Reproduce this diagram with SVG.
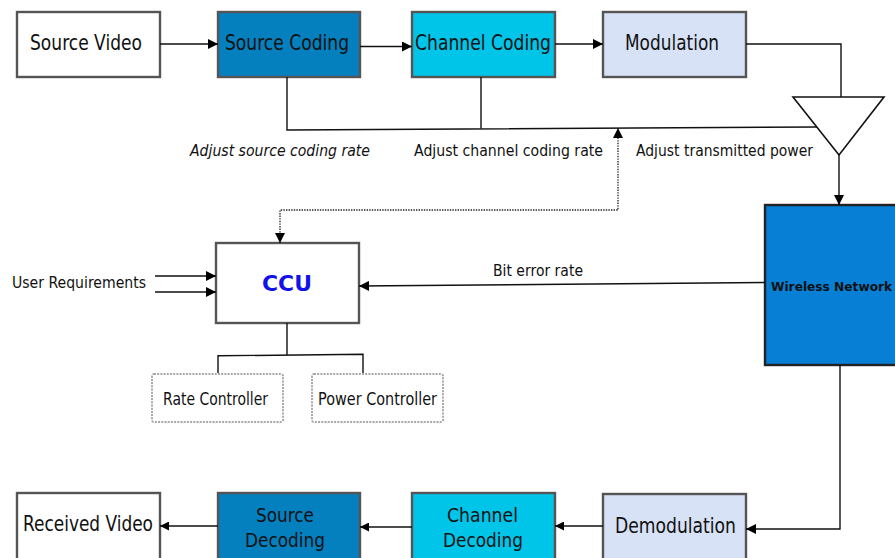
<svg xmlns="http://www.w3.org/2000/svg" width="895" height="558" viewBox="0 0 895 558">
  <defs>
    <marker id="arrow" viewBox="0 0 10 10" refX="10" refY="5" markerWidth="10" markerHeight="10" markerUnits="userSpaceOnUse" orient="auto-start-reverse">
      <path d="M0,0 L10,5 L0,10 Z" fill="#000"/>
    </marker>
    <marker id="arrow-s" viewBox="0 0 10 10" refX="10" refY="5" markerWidth="9" markerHeight="9" markerUnits="userSpaceOnUse" orient="auto-start-reverse">
      <path d="M0,0 L10,5 L0,10 Z" fill="#000"/>
    </marker>
  </defs>
  <style>
    text { font-family: "DejaVu Sans", "Liberation Sans", sans-serif; fill: #111; }
    .box { stroke: #555; stroke-width: 2.4; }
    .white { fill: #fff; }
    .src { fill: #0580bf; }
    .chn { fill: #00c4e8; }
    .mod { fill: #d7e2f7; }
    .net { fill: #067fd5; stroke: #222; stroke-width: 2.4; }
    .ctl { fill: #fff; stroke: #a8a8a8; stroke-width: 2; stroke-dasharray: 2 1.2; }
    .big { font-size: 20.5px; }
    .mid { font-size: 19px; }
    .sml { font-size: 17.5px; }
    .lbl { font-size: 15px; }
    .wire { fill: none; stroke: #111; stroke-width: 1.4; }
    .dot { fill: none; stroke: #222; stroke-width: 1.3; stroke-dasharray: 1.4 1.2; }
  </style>

  <!-- transmitter chain -->
  <g id="source-video">
    <rect class="box white" x="17" y="12" width="143" height="65"/>
    <text class="big" x="30" y="49.5" textLength="112" lengthAdjust="spacingAndGlyphs">Source Video</text>
  </g>
  <g id="source-coding">
    <rect class="box src" x="218" y="12" width="142" height="65"/>
    <text class="big" x="225" y="50" textLength="124" lengthAdjust="spacingAndGlyphs">Source Coding</text>
  </g>
  <g id="channel-coding">
    <rect class="box chn" x="412" y="12" width="143" height="65"/>
    <text class="big" x="415" y="50" textLength="136" lengthAdjust="spacingAndGlyphs">Channel Coding</text>
  </g>
  <g id="modulation">
    <rect class="box mod" x="603" y="12" width="143" height="65"/>
    <text class="big" x="625" y="50" textLength="94" lengthAdjust="spacingAndGlyphs">Modulation</text>
  </g>
  <g id="antenna">
    <polygon points="793,97 884,97 839,155" fill="#fff" stroke="#111" stroke-width="1.6"/>
  </g>

  <!-- control unit and its controllers -->
  <g id="ccu">
    <rect class="box white" x="216" y="243" width="143" height="80"/>
    <text x="262" y="291" font-size="22" font-weight="bold" textLength="50" lengthAdjust="spacingAndGlyphs" style="fill:#1212e8">CCU</text>
  </g>
  <g id="rate-controller">
    <rect class="ctl" x="152" y="374" width="131" height="48" rx="2"/>
    <text class="sml" x="163" y="405" textLength="105" lengthAdjust="spacingAndGlyphs">Rate Controller</text>
  </g>
  <g id="power-controller">
    <rect class="ctl" x="312" y="374" width="131" height="48" rx="2"/>
    <text class="sml" x="318" y="405" textLength="119" lengthAdjust="spacingAndGlyphs">Power Controller</text>
  </g>

  <!-- channel: the block runs off the right edge of the sheet -->
  <g id="wireless-network">
    <rect class="net" x="765" y="205" width="132" height="160"/>
    <text x="771" y="291" font-size="12.2" font-weight="bold">Wireless Network</text>
  </g>

  <!-- receiver chain -->
  <g id="received-video">
    <rect class="box white" x="17" y="493" width="143" height="80"/>
    <text class="big" x="23" y="531" textLength="130" lengthAdjust="spacingAndGlyphs">Received Video</text>
  </g>
  <g id="source-decoding">
    <rect class="box src" x="218" y="493" width="142" height="80"/>
    <text class="mid" x="256" y="522" textLength="58" lengthAdjust="spacingAndGlyphs">Source</text>
    <text class="mid" x="245" y="547" textLength="80" lengthAdjust="spacingAndGlyphs">Decoding</text>
  </g>
  <g id="channel-decoding">
    <rect class="box chn" x="412" y="493" width="143" height="80"/>
    <text class="mid" x="447" y="522" textLength="71" lengthAdjust="spacingAndGlyphs">Channel</text>
    <text class="mid" x="443" y="547" textLength="80" lengthAdjust="spacingAndGlyphs">Decoding</text>
  </g>
  <g id="demodulation">
    <rect class="box mod" x="603" y="494" width="143" height="80"/>
    <text class="big" x="615" y="533" textLength="121" lengthAdjust="spacingAndGlyphs">Demodulation</text>
  </g>

  <!-- connectors -->
  <g id="connectors">
    <path class="wire" d="M160,44 H218" marker-end="url(#arrow)"/>
    <path class="wire" d="M360,46.5 H412" marker-end="url(#arrow)"/>
    <path class="wire" d="M555,44 H603" marker-end="url(#arrow)"/>
    <path class="wire" d="M746,44 H841 V97"/>
    <path class="wire" d="M839,155 V205" marker-end="url(#arrow)"/>

    <path class="wire" d="M287,77 V130 L817,127"/>
    <path class="wire" d="M481,77 V128.6"/>
    <path class="dot" d="M280,243 V210 H618 V128" marker-start="url(#arrow)" marker-end="url(#arrow)"/>

    <path class="wire" d="M765,282.5 L359,286" marker-end="url(#arrow)"/>
    <path class="wire" d="M155,276 H216" marker-end="url(#arrow)"/>
    <path class="wire" d="M155,292 H216" marker-end="url(#arrow)"/>

    <path class="wire" d="M287,323 V355"/>
    <path class="wire" d="M218,373 V355.8 L363,354.3 V373"/>

    <path class="wire" d="M840,365 V529 H746" marker-end="url(#arrow)"/>
    <path class="wire" d="M603,526 H555" marker-end="url(#arrow-s)"/>
    <path class="wire" d="M412,527 H360" marker-end="url(#arrow-s)"/>
    <path class="wire" d="M218,526 H160" marker-end="url(#arrow-s)"/>

    <text class="lbl" x="190" y="155.5" font-style="italic" textLength="180" lengthAdjust="spacingAndGlyphs">Adjust source coding rate</text>
    <text class="lbl" x="414" y="155.5" textLength="189" lengthAdjust="spacingAndGlyphs">Adjust channel coding rate</text>
    <text class="lbl" x="636" y="155.5" textLength="177" lengthAdjust="spacingAndGlyphs">Adjust transmitted power</text>
    <text class="lbl" x="12" y="288" textLength="134" lengthAdjust="spacingAndGlyphs">User Requirements</text>
    <text class="lbl" x="493" y="276" textLength="90" lengthAdjust="spacingAndGlyphs">Bit error rate</text>
  </g>
</svg>
